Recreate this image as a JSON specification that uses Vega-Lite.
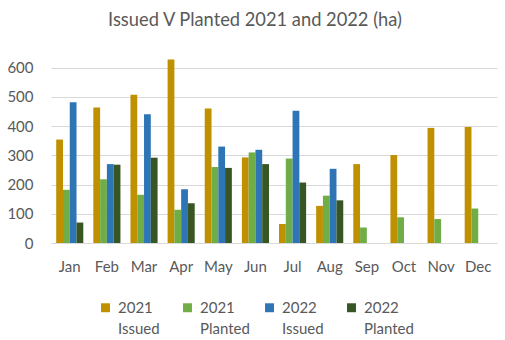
{
  "$schema": "https://vega.github.io/schema/vega-lite/v6.json",
  "width": 446,
  "height": 187,
  "padding": {"left": 6, "right": 5, "top": 10, "bottom": 6},
  "background": "white",
  "title": {"text": "Issued V Planted 2021 and 2022 (ha)", "fontSize": 18.3, "fontWeight": "normal", "color": "#595959", "font": "Lato", "offset": 26, "dx": -19},
  "data": {"values": [
    {"month": "Jan", "series": "2021 Issued", "value": 354},
    {"month": "Jan", "series": "2021 Planted", "value": 182},
    {"month": "Jan", "series": "2022 Issued", "value": 482},
    {"month": "Jan", "series": "2022 Planted", "value": 70},
    {"month": "Feb", "series": "2021 Issued", "value": 464},
    {"month": "Feb", "series": "2021 Planted", "value": 218},
    {"month": "Feb", "series": "2022 Issued", "value": 270},
    {"month": "Feb", "series": "2022 Planted", "value": 268},
    {"month": "Mar", "series": "2021 Issued", "value": 507},
    {"month": "Mar", "series": "2021 Planted", "value": 165},
    {"month": "Mar", "series": "2022 Issued", "value": 441},
    {"month": "Mar", "series": "2022 Planted", "value": 292},
    {"month": "Apr", "series": "2021 Issued", "value": 628},
    {"month": "Apr", "series": "2021 Planted", "value": 114},
    {"month": "Apr", "series": "2022 Issued", "value": 184},
    {"month": "Apr", "series": "2022 Planted", "value": 136},
    {"month": "May", "series": "2021 Issued", "value": 460},
    {"month": "May", "series": "2021 Planted", "value": 260},
    {"month": "May", "series": "2022 Issued", "value": 330},
    {"month": "May", "series": "2022 Planted", "value": 257},
    {"month": "Jun", "series": "2021 Issued", "value": 293},
    {"month": "Jun", "series": "2021 Planted", "value": 310},
    {"month": "Jun", "series": "2022 Issued", "value": 319},
    {"month": "Jun", "series": "2022 Planted", "value": 270},
    {"month": "Jul", "series": "2021 Issued", "value": 65},
    {"month": "Jul", "series": "2021 Planted", "value": 289},
    {"month": "Jul", "series": "2022 Issued", "value": 453},
    {"month": "Jul", "series": "2022 Planted", "value": 207},
    {"month": "Aug", "series": "2021 Issued", "value": 127},
    {"month": "Aug", "series": "2021 Planted", "value": 162},
    {"month": "Aug", "series": "2022 Issued", "value": 254},
    {"month": "Aug", "series": "2022 Planted", "value": 146},
    {"month": "Sep", "series": "2021 Issued", "value": 270},
    {"month": "Sep", "series": "2021 Planted", "value": 53},
    {"month": "Oct", "series": "2021 Issued", "value": 301},
    {"month": "Oct", "series": "2021 Planted", "value": 88},
    {"month": "Nov", "series": "2021 Issued", "value": 394},
    {"month": "Nov", "series": "2021 Planted", "value": 82},
    {"month": "Dec", "series": "2021 Issued", "value": 397},
    {"month": "Dec", "series": "2021 Planted", "value": 118}
  ]},
  "mark": {"type": "bar"},
  "encoding": {
    "x": {
      "field": "month", "type": "nominal",
      "sort": ["Jan","Feb","Mar","Apr","May","Jun","Jul","Aug","Sep","Oct","Nov","Dec"],
      "scale": {"paddingInner": 0.27, "paddingOuter": 0.14},
      "axis": {"title": null, "labelAngle": 0, "labelFontSize": 15, "labelColor": "#595959", "labelFont": "Lato", "labelPadding": 16, "ticks": false, "domainColor": "#D9D9D9", "domainWidth": 1}
    },
    "xOffset": {"field": "series", "type": "nominal", "sort": ["2021 Issued","2021 Planted","2022 Issued","2022 Planted"], "scale": {"paddingInner": 0, "paddingOuter": 0}},
    "y": {
      "field": "value", "type": "quantitative",
      "scale": {"domain": [0, 640], "nice": false},
      "axis": {"title": null, "values": [0,100,200,300,400,500,600], "labelFontSize": 15, "labelColor": "#595959", "labelFont": "Lato", "ticks": false, "domain": false, "gridColor": "#D9D9D9", "gridWidth": 1, "labelPadding": 18}
    },
    "color": {
      "field": "series", "type": "nominal",
      "sort": ["2021 Issued","2021 Planted","2022 Issued","2022 Planted"],
      "scale": {"domain": ["2021 Issued","2021 Planted","2022 Issued","2022 Planted"], "range": ["#BF9000","#70AD47","#2E75B6","#375623"]},
      "legend": {"title": null, "orient": "none", "legendX": 47, "legendY": 244, "direction": "horizontal", "columns": 4, "gridAlign": "all", "symbolType": "square", "symbolSize": 80, "labelFontSize": 15, "labelColor": "#595959", "labelFont": "Lato", "labelExpr": "split(datum.label, ' ')", "columnPadding": 12, "labelOffset": 5}
    }
  },
  "config": {"view": {"stroke": null}, "style": {"guide-label": {"lineHeight": 21}}}
}
